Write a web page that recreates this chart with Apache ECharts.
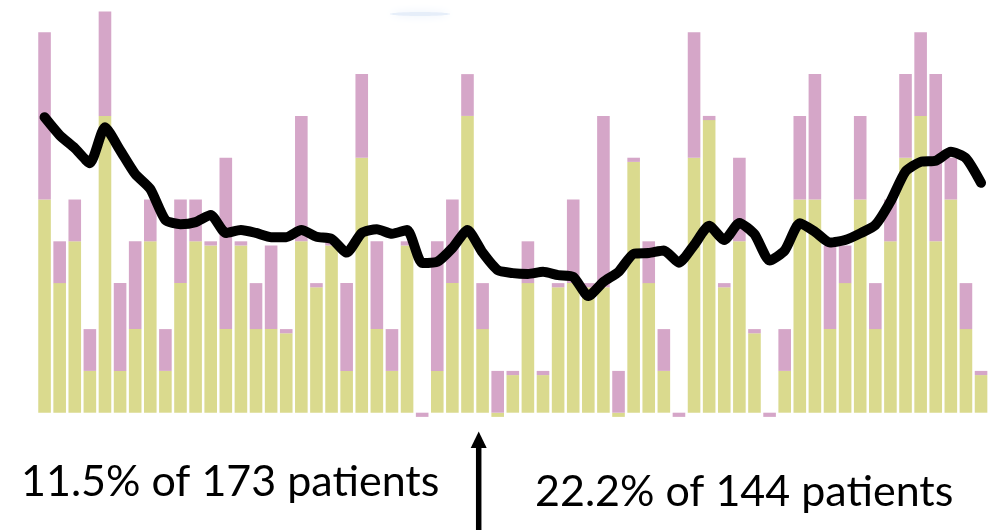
<!DOCTYPE html>
<html>
<head>
<meta charset="utf-8">
<script src="https://cdn.jsdelivr.net/npm/echarts@6/dist/echarts.min.js"></script>
<style>
  html, body { margin: 0; padding: 0; background: #ffffff; }
  #chart { width: 1000px; height: 530px; }
</style>
</head>
<body>
<div id="chart"></div>
<script>
// Categories: 63 consecutive periods
const categories = Array.from({length: 63}, (_, i) => String(i + 1));

// Lower (yellow-green) stacked segment
const yellowValues = [
  5.1, 3.1, 4.1, 1.0, 7.1, 1.0, 2.0, 4.1, 1.0, 3.1,
  4.1, 4.0, 2.0, 4.0, 2.0, 2.0, 1.9, 4.1, 3.0, 4.0,
  1.0, 6.1, 2.0, 1.0, 4.0, 0, 1.0, 3.1, 7.1, 2.0,
  -0.1, 0.9, 3.1, 0.9, 3.0, 3.1, 3.0, 3.0, -0.1, 6.0,
  3.1, 1.0, 0, 6.1, 7.0, 3.0, 4.1, 1.9, 0, 1.0,
  5.1, 5.1, 2.0, 3.1, 5.1, 2.0, 4.1, 6.1, 7.1, 4.1,
  5.1, 2.0, 0.9
];

// Upper (pink) stacked segment
const pinkValues = [
  4.0, 1.0, 1.0, 1.0, 2.5, 2.1, 2.1, 1.0, 1.0, 2.0,
  1.0, 0.1, 4.1, 0.1, 1.1, 2.0, 0.1, 3.0, 0.1, 0.1,
  2.1, 2.0, 2.1, 1.0, 0.1, -0.1, 3.1, 2.0, 1.0, 1.1,
  1.0, 0.1, 1.0, 0.1, 0.1, 2.0, 0.1, 4.1, 1.0, 0.1,
  1.0, 1.0, -0.1, 3.0, 0.1, 0.1, 2.0, 0.1, -0.1, 1.0,
  2.0, 3.0, 2.0, 0.9, 2.0, 1.1, 1.0, 2.0, 2.0, 4.0,
  1.0, 1.1, 0.1
];

// Black running-average line
const lineValues = [
  7.07, 6.64, 6.33, 5.97, 6.83, 6.28, 5.71, 5.35, 4.61, 4.51,
  4.56, 4.73, 4.30, 4.37, 4.30, 4.20, 4.20, 4.37, 4.21, 4.16,
  3.83, 4.30, 4.39, 4.28, 4.37, 3.58, 3.61, 3.94, 4.37, 3.83,
  3.41, 3.34, 3.32, 3.37, 3.29, 3.25, 2.79, 3.13, 3.37, 3.80,
  3.82, 3.88, 3.59, 4.01, 4.47, 4.13, 4.54, 4.27, 3.64, 3.88,
  4.53, 4.33, 4.07, 4.13, 4.29, 4.49, 5.05, 5.77, 6.00, 6.03,
  6.24, 6.09, 5.50
];

// Annotation texts
const leftLabel = '11.5% of 173 patients';
const rightLabel = '22.2% of 144 patients';

const chart = echarts.init(document.getElementById('chart'), null, {renderer: 'canvas'});

const fontFamily = 'Lato, "Open Sans", "Noto Sans", sans-serif';

chart.setOption({
  animation: false,
  backgroundColor: '#ffffff',
  grid: { left: 37, right: 11.4, top: 3.06, bottom: 96.4, containLabel: false },
  xAxis: {
    type: 'category',
    data: categories,
    boundaryGap: true,
    show: false
  },
  yAxis: {
    type: 'value',
    min: -0.5,
    max: 9.8,
    show: false,
    splitLine: { show: false }
  },
  series: [
    {
      name: 'lower',
      type: 'bar',
      stack: 'total',
      data: yellowValues,
      barWidth: 12.6,
      itemStyle: { color: '#DADA8E' },
      z: 2
    },
    {
      name: 'upper',
      type: 'bar',
      stack: 'total',
      data: pinkValues,
      barWidth: 12.6,
      itemStyle: { color: '#D5A6C8' },
      z: 2
    },
    {
      name: 'average',
      type: 'line',
      data: lineValues,
      smooth: 0.2,
      symbol: 'none',
      lineStyle: { color: '#000000', width: 10, join: 'round', cap: 'round' },
      z: 5
    }
  ],
  graphic: [
    {
      type: 'ellipse',
      shape: { cx: 420, cy: 14, rx: 30, ry: 2 },
      style: { fill: '#e6eef9', shadowBlur: 8, shadowColor: '#e6eef9' },
      silent: true
    },
    {
      type: 'text',
      left: 21,
      top: 461,
      style: { text: leftLabel, font: '43px ' + fontFamily, fill: '#000000' }
    },
    {
      type: 'text',
      left: 535,
      top: 471,
      style: { text: rightLabel, font: '43px ' + fontFamily, fill: '#000000' }
    },
    {
      type: 'line',
      shape: { x1: 478.7, y1: 530, x2: 478.7, y2: 445 },
      style: { stroke: '#000000', lineWidth: 5.5 }
    },
    {
      type: 'polygon',
      shape: { points: [[470.7, 448], [486.7, 448], [478.7, 431.5]] },
      style: { fill: '#000000' }
    }
  ]
});
</script>
</body>
</html>
